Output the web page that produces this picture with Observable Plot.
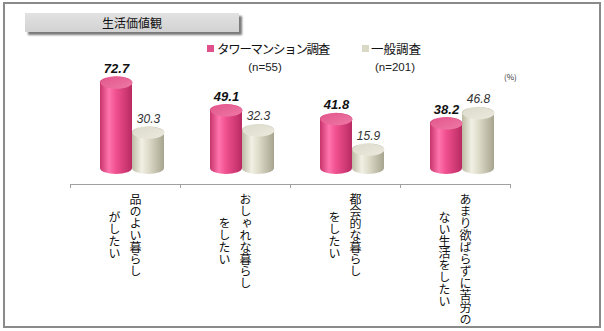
<!DOCTYPE html>
<html><head><meta charset="utf-8">
<script src="https://cdn.jsdelivr.net/npm/d3@7"></script>
<script src="https://cdn.jsdelivr.net/npm/@observablehq/plot@0.6"></script>
<style>
body{margin:0;background:#fff;font-family:"Noto Sans CJK JP",sans-serif;}
#wrap{position:relative;width:604px;height:331px;overflow:hidden;background:#fff;}
#chart{position:absolute;left:0;top:0;}
#border{position:absolute;left:3px;top:2px;width:594px;height:322px;border:2px solid #8a8a8a;pointer-events:none;}
#title{position:absolute;left:25px;top:13px;width:214px;height:19px;background:linear-gradient(#e2e2e2,#d2d2d2);box-shadow:3px 3px 2px #7a7a7a;font-size:12px;line-height:19px;text-align:center;color:#111;}
.leg{position:absolute;font-size:12.5px;color:#111;white-space:nowrap;line-height:16px;}
.sw{position:absolute;width:7px;height:7px;}
.n{position:absolute;font-size:11.5px;color:#222;transform:translateX(-50%);white-space:nowrap;font-family:"Liberation Sans",sans-serif;}
#pct{position:absolute;left:504px;top:71px;font-size:8px;color:#333;}
.vlabel{writing-mode:vertical-rl;}
</style></head>
<body>
<svg width="0" height="0" style="position:absolute">
<defs>
<linearGradient id="pinkBody" x1="0" x2="1" y1="0" y2="0">
<stop offset="0" stop-color="#c8346c"/><stop offset="0.28" stop-color="#ff74ad"/><stop offset="0.5" stop-color="#f0508f"/><stop offset="1" stop-color="#b92a62"/>
</linearGradient>
<linearGradient id="beigeBody" x1="0" x2="1" y1="0" y2="0">
<stop offset="0" stop-color="#bdbaa4"/><stop offset="0.3" stop-color="#f1f0e4"/><stop offset="0.55" stop-color="#dbd9c6"/><stop offset="1" stop-color="#a6a38e"/>
</linearGradient>
<linearGradient id="pinkCap" x1="0" x2="1" y1="0" y2="1">
<stop offset="0" stop-color="#e2558b"/><stop offset="1" stop-color="#ee7aa6"/>
</linearGradient>
<linearGradient id="beigeCap" x1="0" x2="1" y1="0" y2="1">
<stop offset="0" stop-color="#dcdacb"/><stop offset="1" stop-color="#eceade"/>
</linearGradient>
</defs></svg>
<div id="wrap">
<div id="chart"></div>
<div id="title">生活価値観</div>
<div class="sw" style="left:207px;top:45px;background:#e0508a"></div>
<div class="leg" style="left:217px;top:41px;letter-spacing:-1.3px">タワーマンション調査</div>
<div class="n" style="left:265px;top:61px">(n=55)</div>
<div class="sw" style="left:362px;top:45px;background:#d9d9c6"></div>
<div class="leg" style="left:371px;top:41px">一般調査</div>
<div class="n" style="left:395px;top:61px">(n=201)</div>
<div id="pct">(%)</div>
<div id="border"></div>
</div>
<script>
const categories = ["品のよい暮らしがしたい","おしゃれな暮らしをしたい","都会的な暮らしをしたい","あまり欲ばらずに苦労のない生活をしたい"];
const labelLine1 = ["品のよい暮らし","おしゃれな暮らし","都会的な暮らし","あまり欲ばらずに苦労の"];
const labelLine2 = ["がしたい","をしたい","をしたい","ない生活をしたい"];
const series = ["タワーマンション調査","一般調査"];
const tower = [72.7, 49.1, 41.8, 38.2];
const general = [30.3, 32.3, 15.9, 46.8];

const towerData = categories.map((c,i)=>({cat:c, s:series[0], v:tower[i]}));
const generalData = categories.map((c,i)=>({cat:c, s:series[1], v:general[i]}));
const labels = categories.map((c,i)=>({cat:c, l1:labelLine1[i], l2:labelLine2[i]}));

const K = 0.5523;
const cap = {draw(ctx){const a=16,b=6;
  ctx.moveTo(a,0);
  ctx.bezierCurveTo(a,K*b,K*a,b,0,b);
  ctx.bezierCurveTo(-K*a,b,-a,K*b,-a,0);
  ctx.bezierCurveTo(-a,-K*b,-K*a,-b,0,-b);
  ctx.bezierCurveTo(K*a,-b,a,-K*b,a,0);
  ctx.closePath();}};

const bodyOpts = {x:"s", y:"v", fx:"cat", rx:16, ry:6, insetTop:-6, insetBottom:-6};
const numFont = "Liberation Sans, Arial, sans-serif";
const labelSize = 12;
const plot = Plot.plot({
  width:604, height:331,
  marginLeft:70, marginRight:94, marginTop:40, marginBottom:147,
  style:{background:"transparent", overflow:"visible"},
  fx:{domain:categories, padding:0, axis:null, label:null},
  x:{domain:series, paddingInner:0, paddingOuter:0.71875, align:0.652, axis:null},
  y:{domain:[0,100], range:[168,50], axis:null},
  marks:[
    Plot.barY(towerData, {...bodyOpts, fill:"url(#pinkBody)"}),
    Plot.barY(generalData, {...bodyOpts, fill:"url(#beigeBody)"}),
    Plot.dot(towerData, {x:"s", y:"v", fx:"cat", symbol:cap, fill:"url(#pinkCap)", stroke:"none"}),
    Plot.dot(generalData, {x:"s", y:"v", fx:"cat", symbol:cap, fill:"url(#beigeCap)", stroke:"none"}),
    Plot.text(towerData, {x:"s", y:"v", fx:"cat", text:d=>d.v.toFixed(1), dy:-14, fontSize:13, fontWeight:"bold", fontStyle:"italic", fontFamily:numFont, fill:"#111"}),
    Plot.text(generalData, {x:"s", y:"v", fx:"cat", text:d=>d.v.toFixed(1), dy:-14, fontSize:12, fontStyle:"italic", fontFamily:numFont, fill:"#333"}),
    Plot.text(labels, {fx:"cat", text:"l1", frameAnchor:"bottom", dx:10, dy:9, fontSize:labelSize, fill:"#111", fontFamily:"Noto Sans CJK JP", ariaDescription:"label-col"}),
    Plot.text(labels, {fx:"cat", text:"l2", frameAnchor:"bottom", dx:-11, dy:9, fontSize:labelSize, fill:"#111", fontFamily:"Noto Sans CJK JP", ariaDescription:"label-col"})
  ]
});
document.getElementById("chart").appendChild(plot);

const svg = d3.select(plot);
// category labels written vertically; the columns of one label share the centre of its longest column
svg.selectAll('g[aria-description="label-col"] text').each(function(){
  const i = this.__data__;
  const L = Math.max(labelLine1[i].length, labelLine2[i].length);
  d3.select(this).classed("vlabel", true).attr("dy", null).attr("y", L * labelSize / 2);
});

// category axis line and boundary ticks from the fx scale
const fx = plot.scale("fx");
const yAxis = 331 - 147;
const r = fx.range;
const g = svg.append("g").attr("stroke","#a0a0a0").attr("stroke-width",1);
g.append("line").attr("x1",r[0]).attr("x2",r[1]).attr("y1",yAxis+0.5).attr("y2",yAxis+0.5);
const bounds = fx.domain.map(c=>fx.apply(c)).concat([fx.apply(fx.domain[fx.domain.length-1]) + fx.bandwidth]);
bounds.forEach(b=>{ g.append("line").attr("x1",Math.round(b)+0.5).attr("x2",Math.round(b)+0.5).attr("y1",yAxis).attr("y2",yAxis+4); });
</script>
</body></html>
